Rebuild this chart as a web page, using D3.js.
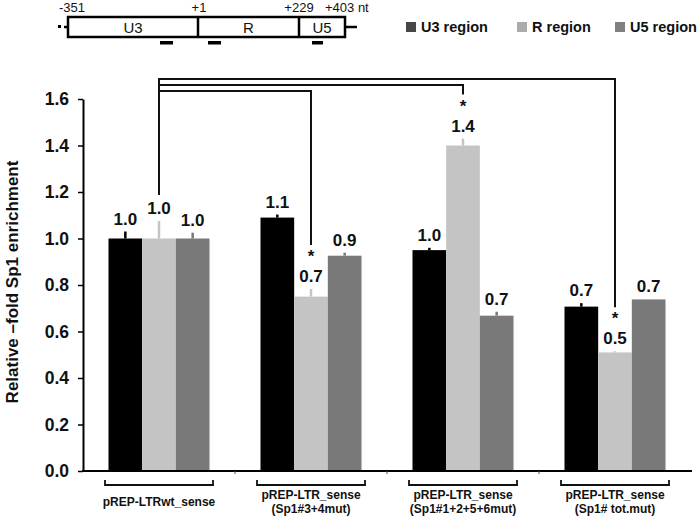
<!DOCTYPE html>
<html>
<head>
<meta charset="utf-8">
<script src="https://cdn.jsdelivr.net/npm/d3@7"></script>
<style>
  body { margin: 0; background: #fff; }
  text { font-family: "Liberation Sans", Arial, sans-serif; }
</style>
</head>
<body>
<div id="chart"></div>
<script>
// values
var categories = ["pREP-LTRwt_sense", "pREP-LTR_sense (Sp1#3+4mut)", "pREP-LTR_sense (Sp1#1+2+5+6mut)", "pREP-LTR_sense (Sp1# tot.mut)"];
var series = ["U3 region", "R region", "U5 region"];
var u3Values = [1.00, 1.09, 0.95, 0.707];
var rValues  = [1.00, 0.75, 1.40, 0.51];
var u5Values = [1.00, 0.926, 0.668, 0.738];
var u3Errors = [0.03, 0.013, 0.01, 0.015];
var rErrors  = [0.075, 0.033, 0.03, 0.005];
var u5Errors = [0.025, 0.013, 0.017, 0];
var u3Labels = ["1.0", "1.1", "1.0", "0.7"];
var rLabels  = ["1.0", "0.7", "1.4", "0.5"];
var u5Labels = ["1.0", "0.9", "0.7", "0.7"];
var yTicks = [0, 0.2, 0.4, 0.6, 0.8, 1.0, 1.2, 1.4, 1.6];
// R region of each mutant compared with wt (significant)
var sigGroups = [3, 2, 1];
// LTR map above the chart
var ltrRegions = ["U3", "R", "U5"];
var ltrCoords = ["-351", "+1", "+229", "+403 nt"];

var barColors = ["#000000", "#c4c4c4", "#797979"];
var legendColors = ["#474747", "#ababab", "#808080"];
var font = '"Liberation Sans", Arial, sans-serif';

var svg = d3.select("#chart")
  .append("svg")
    .attr("width", 700)
    .attr("height", 523);

var x = d3.scaleBand()
  .domain(categories)
  .range([83, 691]);

var groupWidth = 101;
var xs = d3.scaleBand()
  .domain(series)
  .range([0, groupWidth]);
var offset = (x.bandwidth() - groupWidth) / 2;

var y = d3.scaleLinear()
  .domain([0, 1.6])
  .range([471, 99]);

var rows = [];
categories.forEach(function(c, i){
  rows.push({cat: c, i: i, s: series[0], v: u3Values[i], e: u3Errors[i], label: u3Labels[i], k: 0});
  rows.push({cat: c, i: i, s: series[1], v: rValues[i], e: rErrors[i], label: rLabels[i], k: 1});
  rows.push({cat: c, i: i, s: series[2], v: u5Values[i], e: u5Errors[i], label: u5Labels[i], k: 2});
});

function barCenter(d){
  return x(d.cat) + offset + xs(d.s) + xs.bandwidth() / 2;
}
function labelBase(d){
  return y(d.v + d.e) - 7;
}

// y axis
var yAxis = svg.append("g")
  .attr("transform", "translate(83,0)")
  .call(d3.axisLeft(y).tickValues(yTicks).tickFormat(d3.format(".1f")).tickSize(5).tickSizeOuter(0).tickPadding(9));
yAxis.select(".domain").attr("stroke", "#000").attr("stroke-width", 2);
yAxis.selectAll(".tick line").attr("stroke", "#000").attr("stroke-width", 1.5);
yAxis.selectAll(".tick text")
  .attr("fill", "#111")
  .style("font-family", font)
  .style("font-size", "17.5px")
  .style("font-weight", "bold");

svg.append("text")
  .attr("transform", "translate(18,282)rotate(-90)")
  .attr("text-anchor", "middle")
  .style("font-size", "17px")
  .style("font-weight", "bold")
  .attr("fill", "#111")
  .text("Relative \u2013fold Sp1 enrichment");

// bars
svg.append("g")
  .selectAll("rect")
  .data(rows)
  .enter()
  .append("rect")
    .attr("x", function(d){ return x(d.cat) + offset + xs(d.s); })
    .attr("y", function(d){ return y(d.v); })
    .attr("width", xs.bandwidth())
    .attr("height", function(d){ return y(0) - y(d.v); })
    .attr("fill", function(d){ return barColors[d.k]; });

// error bars, same colour as the bar
svg.append("g")
  .selectAll("line")
  .data(rows.filter(function(d){ return d.e > 0; }))
  .enter()
  .append("line")
    .attr("x1", barCenter)
    .attr("x2", barCenter)
    .attr("y1", function(d){ return y(d.v); })
    .attr("y2", function(d){ return y(d.v + d.e); })
    .attr("stroke", function(d){ return barColors[d.k]; })
    .attr("stroke-width", 2.5);

// value labels
svg.append("g")
  .selectAll("text")
  .data(rows)
  .enter()
  .append("text")
    .attr("x", barCenter)
    .attr("y", labelBase)
    .attr("text-anchor", "middle")
    .style("font-size", "17px")
    .style("font-weight", "bold")
    .attr("fill", "#111")
    .text(function(d){ return d.label; });

// x axis line and boundary ticks
svg.append("line")
  .attr("x1", 82).attr("x2", 692)
  .attr("y1", y(0)).attr("y2", y(0))
  .attr("stroke", "#000").attr("stroke-width", 2);

svg.append("g")
  .selectAll("line")
  .data(categories.slice(1))
  .enter()
  .append("line")
    .attr("x1", function(d){ return x(d); })
    .attr("x2", function(d){ return x(d); })
    .attr("y1", y(0)).attr("y2", y(0) + 3)
    .attr("stroke", "#555").attr("stroke-width", 1);

// brackets and labels under each group
var under = svg.append("g")
  .selectAll("g")
  .data(categories)
  .enter()
  .append("g")
  .attr("transform", function(d){ return "translate(" + (x(d) + x.bandwidth() / 2) + ",0)"; });

under.append("path")
  .attr("d", "M-54,480V485H54V480")
  .attr("fill", "none")
  .attr("stroke", "#111")
  .attr("stroke-width", 1.8);

under.each(function(d){
  var parts = d.split(" ");
  var g = d3.select(this);
  if (parts.length == 1){
    g.append("text").attr("y", 506).text(d);
  } else {
    g.append("text").attr("y", 499).text(parts[0]);
    g.append("text").attr("y", 513).text(parts.slice(1).join(" "));
  }
});
under.selectAll("text")
  .attr("text-anchor", "middle")
  .style("font-size", "12px")
  .style("font-weight", "bold")
  .attr("fill", "#111");

// significance brackets from wt R region to each mutant R region
var rRows = rows.filter(function(d){ return d.k == 1; });
var wt = rRows[0];
var levels = [79, 85, 91];
var sig = svg.append("g")
  .attr("fill", "none")
  .attr("stroke", "#111")
  .attr("stroke-width", 2);

sig.append("line")
  .attr("x1", barCenter(wt)).attr("x2", barCenter(wt))
  .attr("y1", levels[0] - 1).attr("y2", labelBase(wt) - 19);

sigGroups.forEach(function(gi, j){
  var d = rRows[gi];
  var starBase = labelBase(d) - 20;
  sig.append("path")
    .attr("d", "M" + barCenter(wt) + "," + levels[j] + "H" + barCenter(d) + "V" + (starBase - 17));
  svg.append("text")
    .attr("x", barCenter(d))
    .attr("y", starBase)
    .attr("text-anchor", "middle")
    .style("font-size", "17px")
    .style("font-weight", "bold")
    .attr("fill", "#111")
    .text("*");
});

// legend
var legend = svg.append("g")
  .selectAll("g")
  .data(series)
  .enter()
  .append("g")
  .attr("transform", function(d, i){ return "translate(" + [406, 517, 615][i] + ",0)"; });

legend.append("rect")
  .attr("x", 0).attr("y", 22)
  .attr("width", 10).attr("height", 10)
  .attr("fill", function(d, i){ return legendColors[i]; });

legend.append("text")
  .attr("x", 15).attr("y", 32)
  .style("font-size", "14.5px")
  .style("font-weight", "bold")
  .attr("fill", "#111")
  .text(function(d){ return d; });

// LTR map
var map = svg.append("g");
var bounds = [68, 198, 299, 345];

map.append("rect")
  .attr("x", bounds[0]).attr("y", 17)
  .attr("width", bounds[3] - bounds[0]).attr("height", 20)
  .attr("fill", "none").attr("stroke", "#000").attr("stroke-width", 2.5);

map.selectAll(".divider")
  .data(bounds.slice(1, 3))
  .enter()
  .append("line")
    .attr("x1", function(d){ return d; }).attr("x2", function(d){ return d; })
    .attr("y1", 17).attr("y2", 37)
    .attr("stroke", "#000").attr("stroke-width", 2.5);

map.append("rect").attr("x", 58).attr("y", 25).attr("width", 3).attr("height", 3).attr("fill", "#000");
map.append("line").attr("x1", 64).attr("x2", 68).attr("y1", 27).attr("y2", 27).attr("stroke", "#000").attr("stroke-width", 2.5);
map.append("line").attr("x1", 345).attr("x2", 357).attr("y1", 27).attr("y2", 27).attr("stroke", "#000").attr("stroke-width", 2.5);

map.selectAll(".region")
  .data(ltrRegions)
  .enter()
  .append("text")
    .attr("x", function(d, i){ return (bounds[i] + bounds[i + 1]) / 2; })
    .attr("y", 33)
    .attr("text-anchor", "middle")
    .style("font-size", "15px")
    .attr("fill", "#111")
    .text(function(d){ return d; });

map.selectAll(".coord")
  .data(ltrCoords)
  .enter()
  .append("text")
    .attr("x", function(d, i){ return i == 3 ? 325 : [72, 199, 299][i]; })
    .attr("y", 12)
    .attr("text-anchor", function(d, i){ return i == 3 ? "start" : "middle"; })
    .style("font-size", "13px")
    .attr("fill", "#111")
    .text(function(d){ return d; });

// amplicon marks under the map
map.selectAll(".primer")
  .data([[160, 13], [208, 13], [312, 11]])
  .enter()
  .append("rect")
    .attr("x", function(d){ return d[0]; })
    .attr("y", 41)
    .attr("width", function(d){ return d[1]; })
    .attr("height", 3.5)
    .attr("fill", "#000");
</script>
</body>
</html>
